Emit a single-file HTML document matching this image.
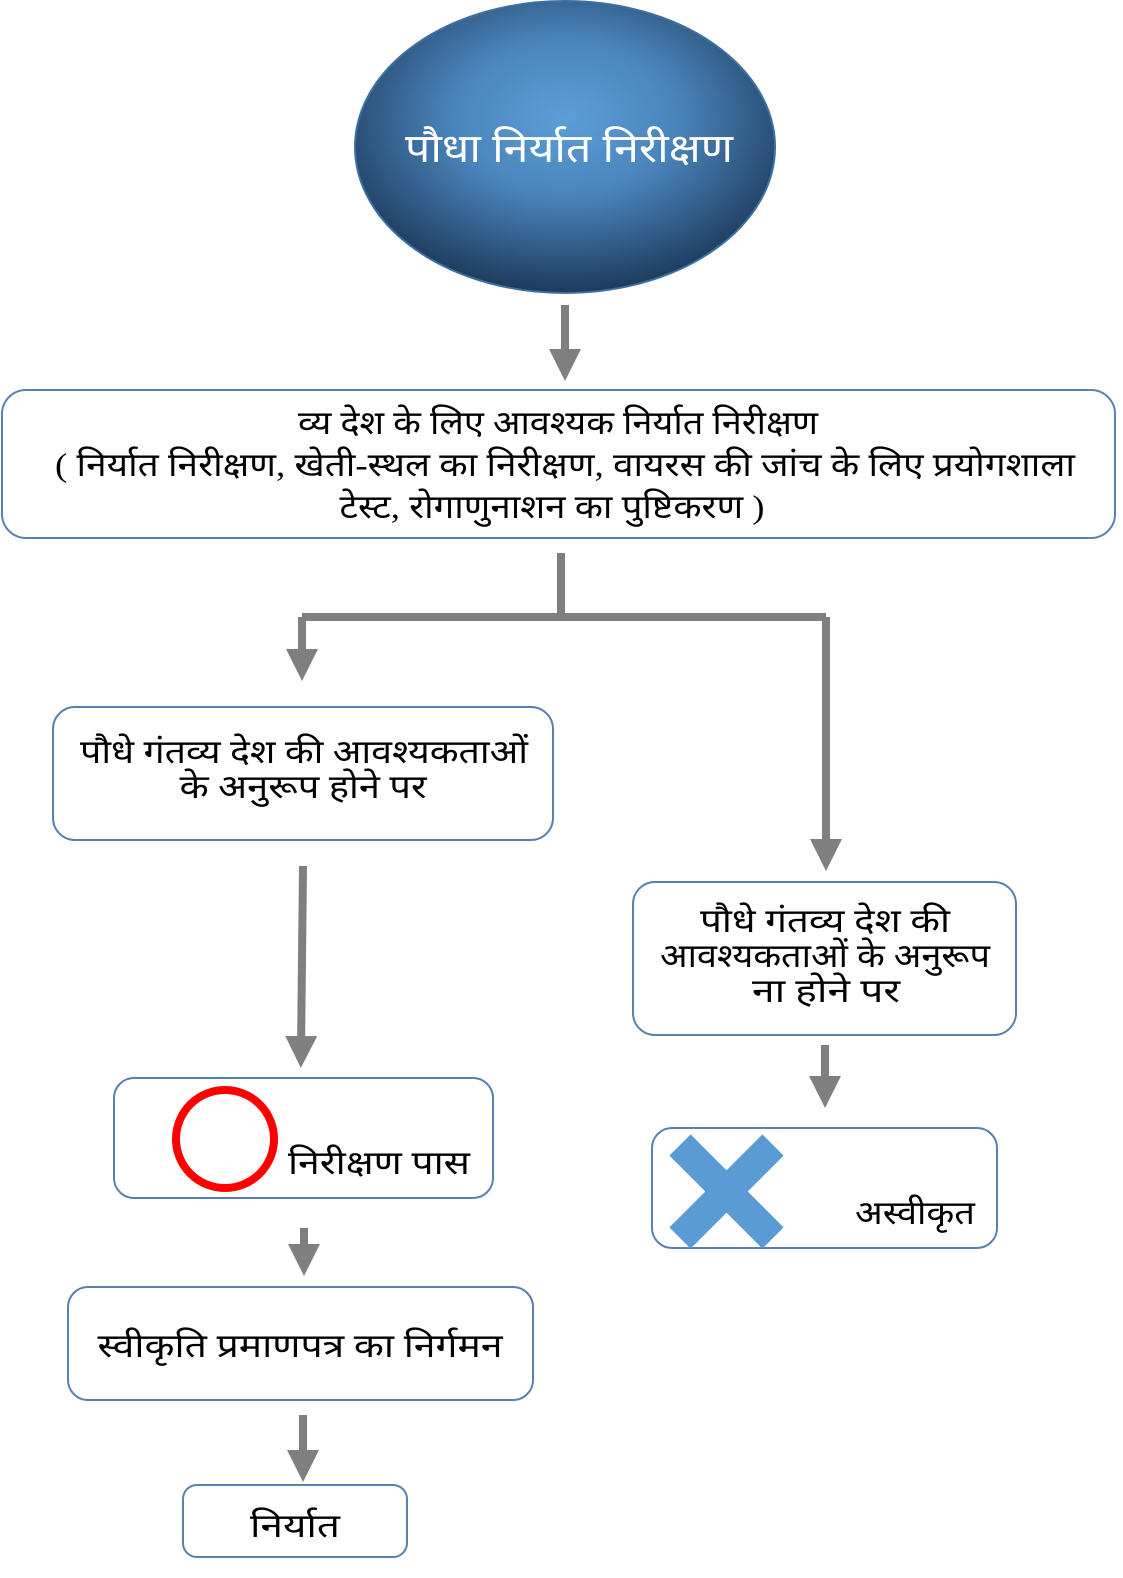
<!DOCTYPE html>
<html><head><meta charset="utf-8"><style>
html,body{margin:0;padding:0;background:#fff;}
svg{display:block;}
text{font-family:"Liberation Serif","Noto Serif CJK SC",serif;fill:#000;}
</style></head><body>
<svg width="1123" height="1578" viewBox="0 0 1123 1578" xmlns="http://www.w3.org/2000/svg">
<defs>
<radialGradient id="g" cx="50%" cy="40%" r="60%">
<stop offset="0" stop-color="#5d9ed8"/>
<stop offset="0.45" stop-color="#4a84bb"/>
<stop offset="1" stop-color="#1d3a5c"/>
</radialGradient>
<marker id="a" markerWidth="4" markerHeight="4" refX="2" refY="2" orient="auto" markerUnits="strokeWidth">
<path d="M0,0 L4,2 L0,4 Z" fill="#7f7f7f"/>
</marker>
</defs>
<ellipse cx="565" cy="147" rx="210" ry="146" fill="url(#g)" stroke="#3d6fa0" stroke-width="2"/>
<text x="569" y="162" font-size="40" text-anchor="middle" textLength="328" lengthAdjust="spacingAndGlyphs" style="fill:#fff">पौधा निर्यात निरीक्षण</text>

<g stroke="#7f7f7f" stroke-width="8" fill="none">
<line x1="565" y1="305" x2="565" y2="365" marker-end="url(#a)"/>
<polyline points="561,553 561,617"/>
<polyline points="302,617 826,617"/>
<line x1="302" y1="617" x2="302" y2="665" marker-end="url(#a)"/>
<line x1="826" y1="617" x2="826" y2="855" marker-end="url(#a)"/>
<line x1="303" y1="866" x2="301" y2="1052" marker-end="url(#a)"/>
<line x1="304" y1="1228" x2="304" y2="1260" marker-end="url(#a)"/>
<line x1="303" y1="1415" x2="303" y2="1466" marker-end="url(#a)"/>
<line x1="825" y1="1045" x2="825" y2="1092" marker-end="url(#a)"/>
</g>

<g fill="#fff" stroke="#5b7fae" stroke-width="2">
<rect x="2" y="390" width="1113" height="148" rx="24"/>
<rect x="53" y="707" width="500" height="133" rx="22"/>
<rect x="114" y="1078" width="379" height="120" rx="20"/>
<rect x="68" y="1287" width="465" height="113" rx="20"/>
<rect x="183" y="1485" width="224" height="72" rx="14"/>
<rect x="633" y="882" width="383" height="153" rx="22"/>
<rect x="652" y="1128" width="345" height="120" rx="20"/>
</g>

<g font-size="33" text-anchor="middle" lengthAdjust="spacingAndGlyphs">
<text x="558" y="434" textLength="520" lengthAdjust="spacingAndGlyphs">व्य देश के लिए आवश्यक निर्यात निरीक्षण</text>
<text x="565" y="476" textLength="1020" lengthAdjust="spacingAndGlyphs">( निर्यात निरीक्षण, खेती-स्थल का निरीक्षण, वायरस की जांच के लिए प्रयोगशाला</text>
<text x="552" y="518" textLength="425" lengthAdjust="spacingAndGlyphs">टेस्ट, रोगाणुनाशन का पुष्टिकरण )</text>
<text x="304" y="763" textLength="448" lengthAdjust="spacingAndGlyphs">पौधे गंतव्य देश की आवश्यकताओं</text>
<text x="303" y="798" textLength="247" lengthAdjust="spacingAndGlyphs">के अनुरूप होने पर</text>
<text x="825" y="932" textLength="250" lengthAdjust="spacingAndGlyphs">पौधे गंतव्य देश की</text>
<text x="825" y="967" textLength="330" lengthAdjust="spacingAndGlyphs">आवश्यकताओं के अनुरूप</text>
<text x="826" y="1002" textLength="148" lengthAdjust="spacingAndGlyphs">ना होने पर</text>
<text x="300" y="1357" textLength="405" lengthAdjust="spacingAndGlyphs">स्वीकृति प्रमाणपत्र का निर्गमन</text>
<text x="295" y="1537" textLength="90" lengthAdjust="spacingAndGlyphs">निर्यात</text>
</g>
<text x="288" y="1174" font-size="33" textLength="182" lengthAdjust="spacingAndGlyphs">निरीक्षण पास</text>
<text x="855" y="1224" font-size="33" textLength="120" lengthAdjust="spacingAndGlyphs">अस्वीकृत</text>

<circle cx="225" cy="1139" r="49" fill="none" stroke="#ff0000" stroke-width="8"/>
<g stroke="#5b9bd5" stroke-width="30" stroke-linecap="butt">
<line x1="680" y1="1145" x2="773" y2="1238"/>
<line x1="773" y1="1145" x2="680" y2="1238"/>
</g>
</svg>
</body></html>
